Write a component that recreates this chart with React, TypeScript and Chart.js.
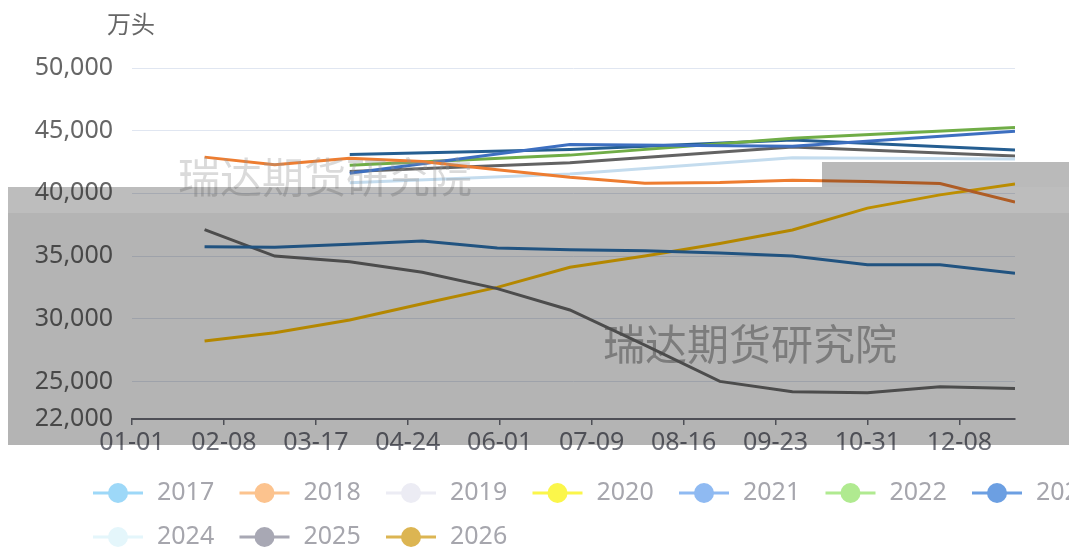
import React, { useEffect, useRef } from 'react';
import { Chart, registerables } from 'chart.js';

Chart.register(...registerables);

// ---------- data ----------
const years = ['2017', '2018', '2019', '2020', '2021', '2022', '2023', '2024', '2025', '2026'];
const monthEnds = ['01-31', '02-29', '03-31', '04-30', '05-31', '06-30', '07-31', '08-31', '09-30', '10-31', '11-30', '12-31'];
const quarterEnds = ['03-31', '06-30', '09-30', '12-31'];
const xTickLabels = ['01-01', '02-08', '03-17', '04-24', '06-01', '07-09', '08-16', '09-23', '10-31', '12-08'];
const yTickValues = [22000, 25000, 30000, 35000, 40000, 45000, 50000];
const unitLabel = '万头';
const watermarkText = '瑞达期货研究院';

const v2017 = [35750, 35700, 35950, 36200, 35650, 35500, 35430, 35250, 35000, 34300, 34300, 33630];
const v2018 = [42890, 42280, 42810, 42550, 41880, 41280, 40810, 40860, 41050, 40940, 40780, 39300];
const v2019 = [37100, 35000, 34550, 33700, 32400, 30700, 27900, 25000, 24170, 24100, 24570, 24440];
const v2020 = [28220, 28880, 29900, 31200, 32500, 34100, 35000, 36000, 37080, 38820, 39880, 40740];
const v2021 = [41600, 43900, 43750, 44950];
const v2022 = [42250, 43050, 44400, 45250];
const v2023 = [43100, 43500, 44250, 43450];
const v2024 = [40850, 41550, 42850, 42750];
const v2025 = [41750, 42450, 43700, 42970];
const v2026: number[] = [];

const seriesValues = [v2017, v2018, v2019, v2020, v2021, v2022, v2023, v2024, v2025, v2026];
const seriesDates = [monthEnds, monthEnds, monthEnds, monthEnds, quarterEnds, quarterEnds, quarterEnds, quarterEnds, quarterEnds, monthEnds];

// ---------- styles ----------
const lineColors = ['#2e75b6', '#ed7d31', '#6b6b6b', '#ffc000', '#3d6fc0', '#70ad47', '#255e91', '#c4dcee', '#636363', '#c9a227'];
const legendColors = ['#9dd8f8', '#fcc38e', '#ececf4', '#fbf64a', '#8fbaf2', '#b0ea90', '#6c9fe2', '#e4f6fb', '#a8a8b4', '#dcb552'];

const dayOf = (md: string) => {
  const [m, d] = md.split('-').map(Number);
  return (Date.UTC(2024, m - 1, d) - Date.UTC(2024, 0, 1)) / 86400000;
};
const labelByDay: Record<number, string> = {};
xTickLabels.forEach((l) => { labelByDay[dayOf(l)] = l; });

const W = 1069;
const H = 549;

const decorPlugin = {
  id: 'decor',
  afterDatasetsDraw(chart: any) {
    const ctx = chart.ctx as CanvasRenderingContext2D;
    ctx.save();
    ctx.font = '42px "Noto Sans CJK SC"';
    ctx.textAlign = 'center';
    ctx.textBaseline = 'middle';
    ctx.fillStyle = 'rgba(150,150,150,0.35)';
    ctx.fillText(watermarkText, 325, 177);
    ctx.fillStyle = 'rgba(110,110,110,0.55)';
    ctx.fillText(watermarkText, 750, 344);
    ctx.restore();
  },
  afterDraw(chart: any) {
    const ctx = chart.ctx as CanvasRenderingContext2D;
    ctx.save();
    // unit label
    ctx.font = '24px "Noto Sans CJK SC"';
    ctx.fillStyle = '#666666';
    ctx.textAlign = 'center';
    ctx.textBaseline = 'middle';
    ctx.fillText(unitLabel, 131, 24);

    // legend
    chart.data.datasets.forEach((ds: any, i: number) => {
      const row = i < 7 ? 0 : 1;
      const col = row === 0 ? i : i - 7;
      const x0 = 93 + col * 146.5;
      const y = row === 0 ? 493 : 537;
      const c = legendColors[i];
      ctx.strokeStyle = c;
      ctx.lineWidth = 3;
      ctx.beginPath();
      ctx.moveTo(x0, y);
      ctx.lineTo(x0 + 50, y);
      ctx.stroke();
      ctx.fillStyle = c;
      ctx.beginPath();
      ctx.arc(x0 + 25, y, 10, 0, Math.PI * 2);
      ctx.fill();
      ctx.fillStyle = '#a6a6ad';
      ctx.font = '25px "Noto Sans"';
      ctx.textAlign = 'left';
      ctx.textBaseline = 'middle';
      ctx.fillText(ds.label, x0 + 64, y);
    });

    // grey photo overlay
    ctx.globalCompositeOperation = 'multiply';
    ctx.fillStyle = '#bababa';
    ctx.fillRect(822, 162, W - 822, 25);
    ctx.fillStyle = '#bdbdbd';
    ctx.fillRect(8, 187, W - 8, 26);
    ctx.fillStyle = '#b4b4b4';
    ctx.fillRect(8, 213, W - 8, 232);
    ctx.restore();
  },
};

export default function App() {
  const ref = useRef<HTMLCanvasElement | null>(null);

  useEffect(() => {
    if (!ref.current) return;
    const datasets = years.map((y, i) => ({
      label: y,
      data: seriesValues[i].map((v, j) => ({ x: dayOf(seriesDates[i][j]), y: v })),
      borderColor: lineColors[i],
      backgroundColor: lineColors[i],
      borderWidth: 3,
      pointRadius: 0,
      tension: 0,
      fill: false,
    }));

    const chart = new Chart(ref.current, {
      type: 'line',
      data: { datasets },
      options: {
        responsive: false,
        animation: false,
        layout: { padding: { left: 0, right: W - 1015, top: 68, bottom: 0 } },
        plugins: {
          legend: { display: false },
          tooltip: { enabled: false },
          title: { display: false },
        },
        scales: {
          x: {
            type: 'linear',
            min: 0,
            max: 365,
            afterFit: (s: any) => { s.height = H - 419; },
            afterBuildTicks: (s: any) => { s.ticks = xTickLabels.map((l) => ({ value: dayOf(l) })); },
            grid: { drawOnChartArea: false, drawTicks: true, tickLength: 6, color: '#6e7079', lineWidth: 1.5 },
            border: { display: true, color: '#6e7079', width: 2 },
            ticks: {
              autoSkip: false,
              maxRotation: 0,
              padding: 3,
              color: '#6e7079',
              font: { family: '"Noto Sans"', size: 25 },
              callback: (v: any) => labelByDay[Number(v)] ?? '',
            },
          },
          y: {
            type: 'linear',
            min: 22000,
            max: 50000,
            afterFit: (s: any) => { s.width = 132; },
            afterBuildTicks: (s: any) => { s.ticks = yTickValues.map((v) => ({ value: v })); },
            grid: { color: '#e0e6f1', lineWidth: 1, drawTicks: false },
            border: { display: false },
            ticks: {
              padding: 19,
              color: '#666666',
              font: { family: '"Noto Sans"', size: 25 },
              callback: (v: any) => Number(v).toLocaleString('en-US'),
            },
          },
        },
      },
      plugins: [decorPlugin],
    });
    return () => chart.destroy();
  }, []);

  return (
    <div style={{ position: 'absolute', left: 0, top: 0, width: W, height: H, background: '#ffffff' }}>
      <canvas ref={ref} width={W} height={H} style={{ width: W, height: H, display: 'block' }} />
    </div>
  );
}
